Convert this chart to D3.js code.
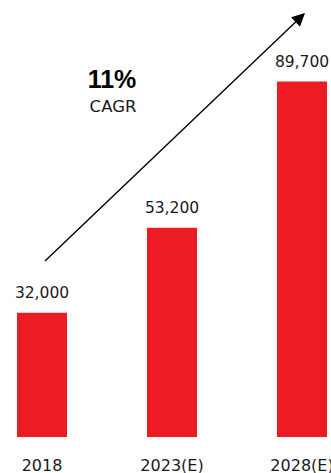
<!DOCTYPE html>
<html>
<head>
<meta charset="utf-8">
<script src="https://cdn.jsdelivr.net/npm/d3@7"></script>
<style>
  body { margin: 0; background: #fff; }
  svg { display: block; font-family: "DejaVu Sans", sans-serif; }
</style>
</head>
<body>
<svg width="331" height="473"></svg>
<script>
// chart values
var years = ["2018", "2023(E)", "2028(E)"];
var values = [32000, 53200, 89700];
var valueLabels = ["32,000", "53,200", "89,700"];
var cagrText = "11%";
var cagrSub = "CAGR";

var svg = d3.select("svg");
var baseY = 437;

var x = d3.scaleBand()
    .domain(years)
    .range([17, 327])
    .paddingInner(80 / 130)
    .paddingOuter(0);

var y = d3.scaleLinear()
    .domain([0, 89700])
    .range([441, 81.5]);

// bars
svg.selectAll(".bar")
  .data(values)
  .enter().append("rect")
    .attr("class", "bar")
    .attr("x", function(d, i) { return x(years[i]); })
    .attr("y", function(d) { return y(d); })
    .attr("width", x.bandwidth())
    .attr("height", function(d) { return baseY - y(d); })
    .attr("fill", "#ed1c24");

// value labels
svg.selectAll(".val")
  .data(values)
  .enter().append("text")
    .attr("class", "val")
    .attr("x", function(d, i) { return x(years[i]) + x.bandwidth() / 2; })
    .attr("y", function(d) { return y(d) - 15; })
    .attr("text-anchor", "middle")
    .attr("font-size", 15.5)
    .attr("fill", "#1a1a1a")
    .text(function(d, i) { return valueLabels[i]; });

// category labels
svg.selectAll(".cat")
  .data(years)
  .enter().append("text")
    .attr("class", "cat")
    .attr("x", function(d) { return x(d) + x.bandwidth() / 2; })
    .attr("y", 471)
    .attr("text-anchor", "middle")
    .attr("font-size", 16)
    .attr("fill", "#1a1a1a")
    .text(function(d) { return d; });

// growth arrow
svg.append("defs").append("marker")
    .attr("id", "head")
    .attr("viewBox", "0 0 10 10")
    .attr("refX", 9).attr("refY", 5)
    .attr("markerWidth", 18).attr("markerHeight", 13)
    .attr("markerUnits", "userSpaceOnUse")
    .attr("orient", "auto")
  .append("path")
    .attr("d", "M0,0L10,5L0,10z")
    .attr("fill", "#000");

svg.append("line")
    .attr("x1", 45).attr("y1", 261)
    .attr("x2", 304).attr("y2", 14)
    .attr("stroke", "#000")
    .attr("stroke-width", 1.4)
    .attr("marker-end", "url(#head)");

svg.append("text")
    .attr("x", 112).attr("y", 88)
    .attr("text-anchor", "middle")
    .attr("font-family", "'Liberation Sans', Arial, sans-serif")
    .attr("font-size", 25)
    .attr("font-weight", "bold")
    .attr("fill", "#000")
    .text(cagrText);

svg.append("text")
    .attr("x", 113).attr("y", 112)
    .attr("text-anchor", "middle")
    .attr("font-size", 16.5)
    .attr("fill", "#1a1a1a")
    .text(cagrSub);
</script>
</body>
</html>
